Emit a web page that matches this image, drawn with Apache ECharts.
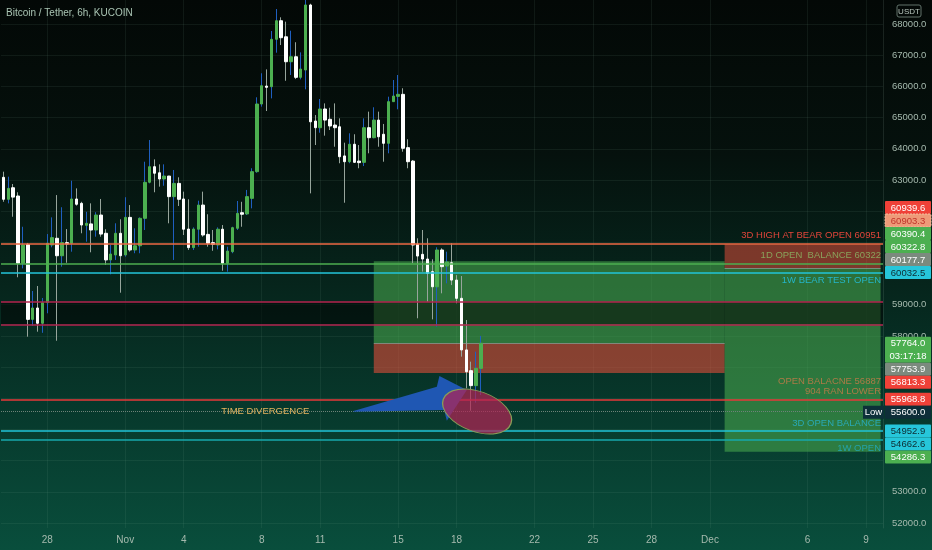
<!DOCTYPE html>
<html>
<head>
<meta charset="utf-8">
<title>Bitcoin / Tether, 6h, KUCOIN</title>
<script src="https://cdn.jsdelivr.net/npm/echarts@6.0.0/dist/echarts.min.js"></script>
<style>
html,body{margin:0;padding:0;background:#040907;}
#c{width:932px;height:550px;background:linear-gradient(180deg,#030806 0%,#05110d 28%,#06251c 52%,#073a2d 76%,#094e3c 100%);}
</style>
</head>
<body>
<div id="c"></div>
<script>
// ================= DATA =================
const firstSlotUTC = Date.UTC(2021, 9, 25, 18);   // first 6h slot on the chart
const slotHours = 6;
const slotCount = 181;

const tickDates  = ['2021-10-28 00:00','2021-11-01 00:00','2021-11-04 00:00','2021-11-08 00:00','2021-11-11 00:00','2021-11-15 00:00','2021-11-18 00:00','2021-11-22 00:00','2021-11-25 00:00','2021-11-28 00:00','2021-12-01 00:00','2021-12-06 00:00','2021-12-09 00:00'];
const tickLabels = ['28','Nov','4','8','11','15','18','22','25','28','Dec','6','9'];
const priceTicks = [52000,53000,54000,55000,56000,57000,58000,59000,60000,61000,62000,63000,64000,65000,66000,67000,68000];

// [open, close, low, high], one row per 6h candle starting at firstSlotUTC
const ohlc = [
 [63085,62380,62300,63265],[62380,62730,62250,63105],[62750,62450,61820,62870],[62485,60330,59880,62605],
 [60330,60915,60165,61500],[60935,58530,57975,60980],[58530,58895,58325,59440],[58895,58405,58135,59600],
 [58405,59065,58100,59215],[59065,60970,58725,61265],[60915,61150,60840,61800],[61130,60570,57845,62515],
 [60570,60990,60220,62125],[60990,60945,60345,61425],[60970,62390,60700,62975],[62390,62220,62175,62730],
 [62250,61555,61290,62300],[61545,61610,61020,61980],[61590,61395,60680,62250],[61395,61875,61180,61965],
 [61875,61265,61180,62390],[61290,60435,60275,61420],[60435,60625,59975,60915],[60595,61290,60435,61610],
 [61290,60570,59385,61740],[60595,61800,60540,62445],[61800,60755,60700,62195],[60755,60890,60650,61450],
 [60890,61770,60650,61800],[61770,62925,61395,63585],[62925,63425,62890,64280],[63425,63215,62605,63660],
 [63230,63030,62785,63500],[63030,63125,62815,63500],[63125,62465,61610,63130],[62465,62890,60435,63320],
 [62890,62380,62165,63085],[62390,61420,61235,62625],[61425,60830,60755,62380],[60830,61425,60755,61480],
 [61420,62195,60860,62335],[62195,61235,61180,62625],[61255,60970,60860,61900],[60990,60935,60730,61395],
 [60915,61420,60775,61480],[61420,60330,60090,61555],[60330,60720,60060,60860],[60700,61470,60650,61500],
 [61450,61930,61395,62325],[61950,61900,61500,62300],[61910,62465,61875,62680],[62410,63265,62090,63375],
 [63265,65435,63230,65650],[65435,66020,65350,66420],[66010,65970,65210,66545],[65990,67510,65615,67775],
 [67510,68105,67080,68480],[68105,67560,67325,68215],[67590,66790,66180,68075],[66790,66950,66365,67785],
 [66950,66290,66235,67415],[66290,66555,66225,67090],[66525,68610,65905,68950],[68610,64865,62570,68650],
 [64890,64675,64120,65080],[64675,65275,64515,65595],[65275,64920,64420,65455],[64945,64730,64600,65315],
 [64760,64675,64065,65455],[64705,63745,63535,64975],[63770,63585,62270,64195],[63585,64145,63535,64495],
 [64145,63565,63550,64465],[63605,63555,63375,64120],[63565,64675,63445,64975],[64675,64355,63855,65190],
 [64355,64920,64335,65330],[64920,64385,64065,65190],[64465,64175,63585,64795],[64175,65510,63855,65670],
 [65510,65690,65500,66205],[65680,65745,65265,66365],[65745,64015,63905,65940],[64035,63585,63375,64305],
 [63605,60915,60330,63640],[60945,60560,58565,61130],[60615,60465,60060,61395],[60465,60005,59095,61130],
 [60060,59575,58530,60455],[59575,60755,58300,60840],[60755,60220,59365,60810],[60240,60370,59685,60700],
 [60345,59790,59630,60970],[59790,59205,59045,59950],[59205,57550,57335,59920],[57550,56850,56320,58510],
 [56885,56405,55600,57175],[56405,56960,55860,57495],[56960,57764,56105,58000]
];

// horizontal drawn levels
const levelValues = [60951, 60322.8, 60032.5, 59097, 58372, 55968.8, 55600, 54952.9, 54662.6];
const levelLabels = ['3D HIGH AT BEAR OPEN 60951', '1D OPEN  BALANCE 60322', '1W BEAR TEST OPEN', '', '', 'OPEN BALACNE 56887\n904 RAN LOWER', '', '3D OPEN BALANCE', '1W OPEN'];

// dark band between the two crimson levels
const bandTop = 59097, bandBottom = 58372;

// position tools
const longFrom = '2021-11-13 18:00', longTo = '2021-12-01 18:00';
const longEntry = 57753.9, longTarget = 60390.4, longStop = 56813.3;
const shortFrom = '2021-12-01 18:00';
const shortEntry = 60177.7, shortStop = 60939.6, shortTarget = 54286.3;

// price scale tags
const tagValues = [60939.6, 60903.3, 60390.4, 60322.8, 60177.7, 60032.5, 57764.0, 57753.9, 56813.3, 55968.8, 55600.0, 54952.9, 54662.6, 54286.3];
const lastPrice = 57764.0;
const countdown = '03:17:18';
const lowValue = 55600.0;

// drawings, anchored at [slot index, price]
const noteText = 'TIME DIVERGENCE';
const noteAnchor = [44.7, 55592];
const arrowPoints = [[71.83,55592],[88.94,56371],[89.47,56714],[95.09,56266],[90.99,55281],[90.44,55624],[71.83,55570]];
const ellipseCenter = [97.2, 55576];

const titleText = 'Bitcoin / Tether, 6h, KUCOIN';
const currencyText = 'USDT';

// ================= LAYOUT / STYLE =================
const FONT = "'Liberation Sans', Arial, sans-serif";
const AXIS_TXT = '#a6baae';
const GRID = {left: 1, right: 49, top: 0, bottom: 22};
const yMin = 51841, yMax = 68769.5;
const ROW = 13;

const pad = n => String(n).padStart(2, '0');
const fmt = t => { const d = new Date(t); return d.getUTCFullYear() + '-' + pad(d.getUTCMonth() + 1) + '-' + pad(d.getUTCDate()) + ' ' + pad(d.getUTCHours()) + ':00'; };
const categories = Array.from({length: slotCount}, (_, i) => fmt(firstSlotUTC + i * slotHours * 3600 * 1000));
const tickMap = new Map(tickDates.map((d, i) => [d, tickLabels[i]]));
const lastCat = categories[categories.length - 1];

const levelStyles = [
  {color:'#ee6a45', width:1.5, type:'solid', pos:'insideEndTop',    text:'#e2453a'},
  {color:'#4caf50', width:1.5, type:'solid', pos:'insideEndTop',    text:'#8aa35c'},
  {color:'#22c3d8', width:1.5, type:'solid', pos:'insideEndBottom', text:'#25b6c9'},
  {color:'#b3244f', width:1.5, type:'solid'},
  {color:'#b3244f', width:1.5, type:'solid'},
  {color:'#e8383a', width:1.5, type:'solid', pos:'insideEndTop',    text:'#ae7b47'},
  {color:'#6e8279', width:1,   type:'dotted'},
  {color:'#22c3d8', width:1.5, type:'solid', pos:'insideEndTop',    text:'#2aa9b5'},
  {color:'#17a9ad', width:1.5, type:'solid', pos:'insideEndBottom', text:'#25a3aa'}
];

const tagStyles = [
  {bg:'#ef4138', fg:'#ffffff'},
  {bg:'#ee9a78', fg:'#c0322a', stroke:'#f4c0a0'},
  {bg:'#4caf50', fg:'#ffffff'},
  {bg:'#4caf50', fg:'#ffffff'},
  {bg:'#7b8a7e', fg:'#ffffff'},
  {bg:'#26c6da', fg:'#0d2b31'},
  {bg:'#4caf50', fg:'#ffffff'},
  {bg:'#7b8a7e', fg:'#ffffff'},
  {bg:'#ef4138', fg:'#ffffff'},
  {bg:'#ef4138', fg:'#ffffff'},
  {bg:'#0e2e38', fg:'#ffffff'},
  {bg:'#26c6da', fg:'#0d2b31'},
  {bg:'#26c6da', fg:'#0d2b31'},
  {bg:'#4caf50', fg:'#ffffff'}
];

const wickData = ohlc.map(r => [r[0], r[1], r[2], r[3]]);
const bodyData = ohlc.map(r => [r[0], r[1], Math.min(r[0], r[1]), Math.max(r[0], r[1])]);

const chart = echarts.init(document.getElementById('c'), null, {renderer: 'canvas'});

const option = {
  animation: false,
  backgroundColor: 'transparent',
  grid: Object.assign({containLabel: false}, GRID),
  xAxis: {
    type: 'category', data: categories, boundaryGap: true,
    axisLine: {show: false}, axisTick: {show: false}, splitLine: {show: false},
    axisLabel: {
      interval: (i, v) => tickMap.has(v),
      formatter: v => tickMap.get(v) || '',
      color: AXIS_TXT, fontSize: 10, fontFamily: FONT, margin: 7
    }
  },
  yAxis: {
    type: 'value', position: 'right', min: yMin, max: yMax, scale: true,
    axisLine: {show: true, lineStyle: {color: 'rgba(160,190,175,0.14)'}},
    axisTick: {show: false, customValues: priceTicks},
    splitLine: {show: false},
    axisLabel: {customValues: priceTicks, formatter: v => v.toFixed(1), color: AXIS_TXT, fontSize: 9.5, fontFamily: FONT, margin: 9}
  },
  series: [
    { // grid lines
      type: 'line', data: [], silent: true, z: 0,
      markLine: {
        silent: true, symbol: 'none', z: 0, animation: false,
        label: {show: false},
        lineStyle: {color: 'rgba(140,190,165,0.09)', width: 1, type: 'solid'},
        emphasis: {disabled: true},
        data: priceTicks.map(v => ({yAxis: v})).concat(tickDates.map(d => ({xAxis: d})))
      }
    },
    { // position tools
      type: 'line', data: [], silent: true, z: 1,
      markArea: {
        silent: true, z: 1, animation: false,
        data: [
          [{xAxis: longFrom, yAxis: longEntry, itemStyle: {color: 'rgba(76,175,80,0.55)'}}, {xAxis: longTo, yAxis: longTarget}],
          [{xAxis: longFrom, yAxis: longStop, itemStyle: {color: 'rgba(242,80,60,0.55)'}}, {xAxis: longTo, yAxis: longEntry}],
          [{xAxis: shortFrom, yAxis: shortEntry, itemStyle: {color: 'rgba(242,80,60,0.5)'}}, {xAxis: lastCat, yAxis: shortStop}],
          [{xAxis: shortFrom, yAxis: shortTarget, itemStyle: {color: 'rgba(76,175,80,0.55)'}}, {xAxis: lastCat, yAxis: shortEntry}]
        ]
      },
      markLine: {
        silent: true, symbol: 'none', z: 1.2, animation: false, label: {show: false},
        lineStyle: {color: 'rgba(150,160,155,0.7)', width: 1, type: 'solid'},
        data: [
          [{coord: [longFrom, longEntry]}, {coord: [longTo, longEntry]}],
          [{coord: [shortFrom, shortEntry]}, {coord: [lastCat, shortEntry]}]
        ]
      }
    },
    { // dark band
      type: 'line', data: [], silent: true, z: 1.5,
      markArea: {
        silent: true, z: 1.5, animation: false,
        itemStyle: {color: 'rgba(0,0,0,0.5)'},
        data: [[{yAxis: bandTop}, {yAxis: bandBottom}]]
      }
    },
    { // wicks
      type: 'candlestick', data: wickData, barWidth: 1, z: 3, clip: true, silent: true,
      itemStyle: {color: '#1f5fc0', color0: '#97a59c', borderColor: '#1f5fc0', borderColor0: '#97a59c', borderWidth: 1}
    },
    { // bodies
      type: 'candlestick', data: bodyData, barWidth: 3, z: 4, clip: true, silent: true,
      itemStyle: {color: '#4caf50', color0: '#ffffff', borderColor: '#4caf50', borderColor0: '#ffffff', borderWidth: 1}
    },
    { // levels
      type: 'line', data: [], silent: true, z: 5,
      markLine: {
        silent: true, symbol: 'none', z: 5, animation: false,
        data: levelValues.map((v, i) => {
          const s = levelStyles[i];
          return {
            yAxis: v,
            lineStyle: {color: s.color, width: s.width, type: s.type},
            label: levelLabels[i] ? {
              show: true, position: s.pos, formatter: levelLabels[i], color: s.text,
              fontSize: 9.5, fontFamily: FONT, distance: [2, 3], align: 'right', lineHeight: 10
            } : {show: false}
          };
        })
      }
    }
  ]
};
chart.setOption(option);

// ---------- drawings and price tags ----------
const x0 = chart.convertToPixel({xAxisIndex: 0}, categories[0]);
const x1 = chart.convertToPixel({xAxisIndex: 0}, categories[1]);
const X = idx => x0 + (x1 - x0) * idx;
const Y = p => chart.convertToPixel({yAxisIndex: 0}, p);
const gridRightPx = 932 - GRID.right;

const g = [];
g.push({type: 'text', x: 6, y: 13, z: 50, style: {text: titleText, fill: '#a9c4b3', fontSize: 10, fontFamily: FONT, align: 'left', textAlign: 'left', verticalAlign: 'middle', textVerticalAlign: 'middle'}});
g.push({type: 'rect', z: 50, shape: {x: 897, y: 5, width: 24, height: 12, r: 2}, style: {fill: 'rgba(0,0,0,0)', stroke: '#62736b', lineWidth: 1}});
g.push({type: 'text', x: 909, y: 11.5, z: 51, style: {text: currencyText, fill: '#b9c7bf', fontSize: 8, fontFamily: FONT, align: 'center', textAlign: 'center', verticalAlign: 'middle', textVerticalAlign: 'middle'}});

// arrow
g.push({type: 'polygon', z: 60, silent: true, shape: {points: arrowPoints.map(p => [X(p[0]), Y(p[1])])}, style: {fill: '#1f57b3'}});
// ellipse
g.push({type: 'circle', z: 61, silent: true, x: X(ellipseCenter[0]), y: Y(ellipseCenter[1]), scaleX: 1.8, scaleY: 1, rotation: -0.35,
        shape: {cx: 0, cy: 0, r: 20}, style: {fill: 'rgba(178,36,84,0.72)', stroke: '#8a9c58', lineWidth: 1, strokeNoScale: true}});
// note
g.push({type: 'text', z: 62, x: X(noteAnchor[0]), y: Y(noteAnchor[1]), style: {text: noteText, fill: '#e4b45e', fontSize: 9.5, fontFamily: FONT, align: 'left', textAlign: 'left', verticalAlign: 'middle', textVerticalAlign: 'middle'}});

// tags: above last price pushed up, at/below pushed down
const rows = tagValues.map((v, i) => ({v, i, h: v === lastPrice ? 2 * ROW : ROW, c: Y(v)}));
const lower = rows.filter(r => r.v <= lastPrice).sort((a, b) => b.v - a.v);
const upper = rows.filter(r => r.v > lastPrice).sort((a, b) => a.v - b.v);
let prevBottom = -Infinity;
lower.forEach(r => { r.top = Math.max(r.c - ROW / 2, prevBottom); prevBottom = r.top + r.h; });
let prevTop = lower[0].top;
upper.forEach(r => { const b = Math.min(r.c + ROW / 2, prevTop); r.top = b - r.h; prevTop = r.top; });

const tagX = gridRightPx + 2, tagW = 46;
rows.forEach(r => {
  const s = tagStyles[r.i];
  g.push({type: 'rect', z: 70, shape: {x: tagX, y: r.top, width: tagW, height: r.h, r: 1},
          style: {fill: s.bg, stroke: s.stroke || s.bg, lineWidth: s.stroke ? 1 : 0, lineDash: s.stroke ? [2, 1] : null}});
  const txt = r.v === lastPrice ? r.v.toFixed(1) + '\n' + countdown : r.v.toFixed(1);
  g.push({type: 'text', z: 71, x: tagX + tagW / 2, y: r.top + r.h / 2 + 0.5,
          style: {text: txt, fill: s.fg, fontSize: 9.5, fontFamily: FONT, lineHeight: ROW, align: 'center', textAlign: 'center', verticalAlign: 'middle', textVerticalAlign: 'middle'}});
  if (r.v === lowValue) {
    g.push({type: 'rect', z: 70, shape: {x: tagX - 22, y: r.top, width: 21, height: r.h}, style: {fill: '#0d3039'}});
    g.push({type: 'text', z: 71, x: tagX - 11.5, y: r.top + r.h / 2 + 0.5,
            style: {text: 'Low', fill: '#ffffff', fontSize: 9.5, fontFamily: FONT, align: 'center', textAlign: 'center', verticalAlign: 'middle', textVerticalAlign: 'middle'}});
  }
});

chart.setOption({graphic: {elements: g}});
</script>
</body>
</html>
